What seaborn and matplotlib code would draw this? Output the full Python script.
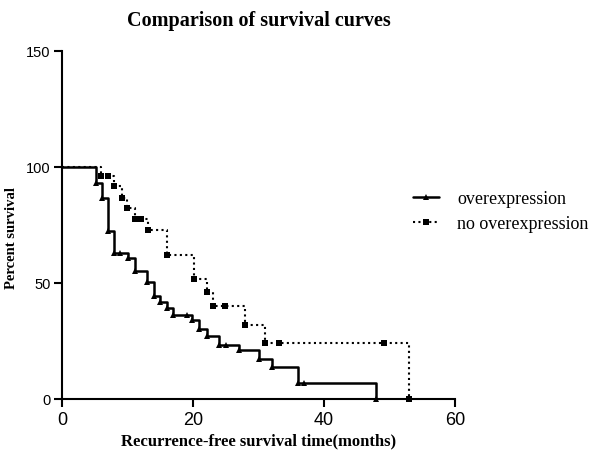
import pandas as pd
import matplotlib.pyplot as plt
import seaborn as sns

# Kaplan-Meier steps (months, percent survival)
over_time = [0, 5.2, 6.1, 7.0, 7.9, 8.8, 10.1, 11.1, 13.0, 14.0, 15.0, 16.0, 17.0,
             19.1, 19.9, 20.9, 22.1, 24.0, 25.0, 27.1, 30.1, 32.1, 36.0, 37.0, 48.0]
over_surv = [100, 93.3, 86.5, 72.6, 63.0, 63.0, 60.7, 55.2, 50.3, 44.3, 41.8, 39.2, 36.1,
             36.1, 33.9, 30.3, 27.1, 23.4, 23.4, 20.9, 17.3, 13.7, 7.0, 7.0, 0]

no_time = [0, 6.0, 7.1, 8.0, 9.1, 10.0, 11.1, 12.1, 13.1, 16.1, 20.2, 22.1, 23.0,
           24.9, 28.0, 31.0, 33.2, 49.2, 53.0]
no_surv = [100, 95.9, 95.9, 91.6, 86.8, 82.2, 77.6, 77.6, 72.7, 62.0, 51.6, 46.0, 40.1,
           40.1, 32.0, 24.1, 24.1, 24.1, 0]

x_ticks = [0, 20, 40, 60]
y_ticks = [0, 50, 100, 150]

sns.set_style("ticks", {"axes.edgecolor": "black", "text.color": "black",
                        "axes.labelcolor": "black", "xtick.color": "black",
                        "ytick.color": "black"})
serif = ["Liberation Serif", "DejaVu Serif"]
plt.rcParams["font.family"] = ["Liberation Sans", "DejaVu Sans"]

over_df = pd.DataFrame({"time": over_time, "surv": over_surv})
no_df = pd.DataFrame({"time": no_time, "surv": no_surv})

fig = plt.figure(figsize=(6, 4.64), dpi=100)
ax = fig.add_axes([0.1033, 0.138, 0.655, 0.750])

sns.lineplot(data=no_df, x="time", y="surv", ax=ax, estimator=None, sort=False,
             drawstyle="steps-post", color="black", lw=1.5, linestyle=(0, (1, 1.6)),
             marker="s", markersize=4.8, markeredgewidth=0,
             markevery=list(range(1, len(no_time))), clip_on=False,
             label="no overexpression")
sns.lineplot(data=over_df, x="time", y="surv", ax=ax, estimator=None, sort=False,
             drawstyle="steps-post", color="black", lw=1.8,
             marker="^", markersize=4.5, markeredgewidth=0,
             markevery=list(range(1, len(over_time))), clip_on=False,
             label="overexpression")

ax.set_xlim(0, 60)
ax.set_ylim(0, 150)
ax.set_xticks(x_ticks)
ax.set_yticks(y_ticks)
ax.tick_params(axis="x", labelsize=13, length=6, width=1.5, pad=3)
ax.tick_params(axis="y", labelsize=10.5, length=6, width=1.5, pad=2)
sns.despine(ax=ax)
for s in ["left", "bottom"]:
    ax.spines[s].set_linewidth(1.5)

ax.set_title("Comparison of survival curves", family=serif, fontweight="bold",
             fontsize=14.5, pad=19)
ax.set_xlabel("Recurrence-free survival time(months)", family=serif,
              fontweight="bold", fontsize=12, labelpad=3)
ax.set_ylabel("Percent survival", family=serif, fontweight="bold", fontsize=10.5)
ax.yaxis.set_label_coords(-0.112, 0.466)

handles, labels = ax.get_legend_handles_labels()
ax.legend(handles[::-1], labels[::-1], loc="upper left",
          bbox_to_anchor=(0.893, 0.60), frameon=False, borderpad=0,
          borderaxespad=0, handlelength=1.45, handletextpad=1.0,
          labelspacing=0.45, prop={"family": serif, "size": 13})

fig.savefig("out.png", dpi=100)
